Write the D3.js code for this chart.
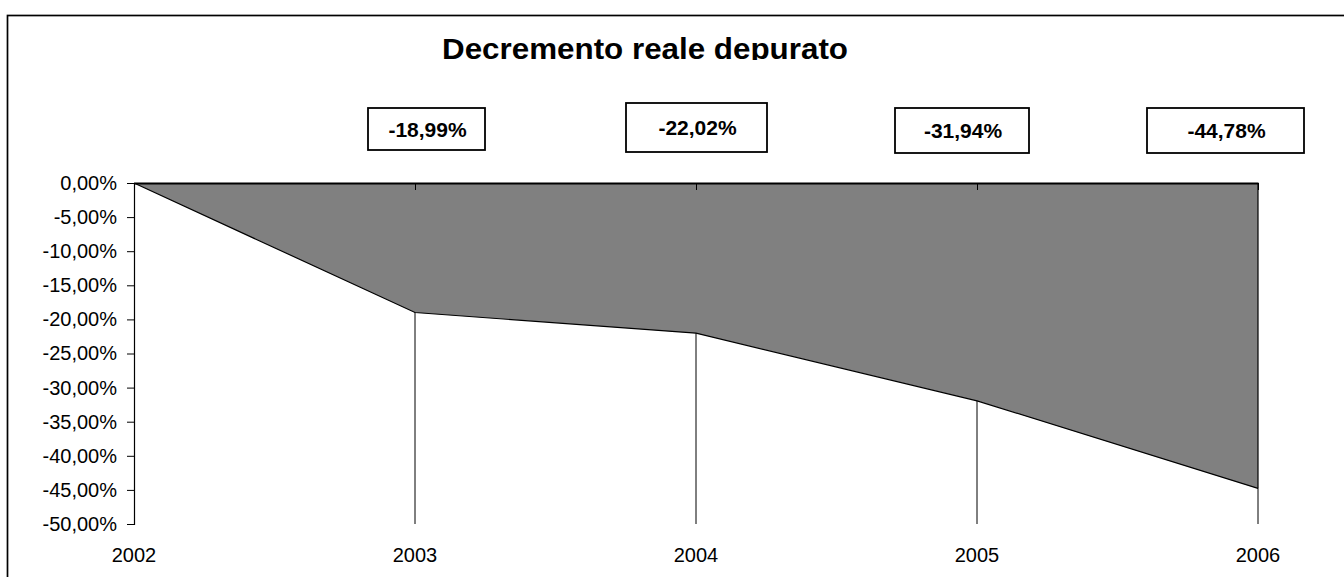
<!DOCTYPE html>
<html>
<head>
<meta charset="utf-8">
<script src="https://cdn.jsdelivr.net/npm/d3@7"></script>
<style>
  body { margin: 0; background: #fff; }
  svg { display: block; font-family: "Liberation Sans", Arial, sans-serif; }
</style>
</head>
<body>
<div id="chart"></div>
<script>
// data
const years = ["2002", "2003", "2004", "2005", "2006"];
const values = [0, -18.99, -22.02, -31.94, -44.78];
const yTicks = [0, -5, -10, -15, -20, -25, -30, -35, -40, -45, -50];
const labelText = ["-18,99%", "-22,02%", "-31,94%", "-44,78%"];

// hand placed label boxes (relative to each point's x), like the original sheet
const boxes = [
  {dx: -47, y: 108, w: 117, h: 42},
  {dx: -70, y: 103, w: 141, h: 49},
  {dx: -82, y: 108, w: 134, h: 45},
  {dx: -111, y: 108, w: 157, h: 45}
];

const width = 1344, height = 577;
const margin = {top: 183, left: 134, right: 86, bottom: 53};

const svg = d3.select("#chart").append("svg")
  .attr("width", width)
  .attr("height", height);

// outer chart border (runs off the right and bottom edge)
svg.append("rect")
  .attr("x", 7.5).attr("y", 15.5)
  .attr("width", width).attr("height", height)
  .attr("fill", "none")
  .attr("stroke", "#000")
  .attr("stroke-width", 1.7);

const x = d3.scalePoint()
  .domain(years)
  .range([margin.left, width - margin.right]);

const y = d3.scaleLinear()
  .domain([0, -50])
  .range([margin.top, height - margin.bottom]);

// italian style: comma decimals, plain hyphen for minus
const fmt = v => d3.format(".2f")(v).replace("−", "-").replace(".", ",") + "%";

// title, clipped at the bottom like the reference
svg.append("clipPath").attr("id", "titleClip")
  .append("rect").attr("x", 0).attr("y", 16).attr("width", width).attr("height", 44);

svg.append("text")
  .attr("clip-path", "url(#titleClip)")
  .attr("x", 442).attr("y", 59)
  .attr("textLength", 406)
  .attr("lengthAdjust", "spacingAndGlyphs")
  .style("font-size", "29px")
  .style("font-weight", "bold")
  .text("Decremento reale depurato");

const pts = years.map((d, i) => ({year: d, v: values[i]}));

// area between 0 and the series
const area = d3.area()
  .x(d => x(d.year))
  .y0(y(0))
  .y1(d => y(d.v));

svg.append("path")
  .datum(pts)
  .attr("d", area)
  .attr("fill", "#808080")
  .attr("stroke", "none");

svg.append("path")
  .datum(pts)
  .attr("d", d3.line().x(d => x(d.year)).y(d => y(d.v)))
  .attr("fill", "none")
  .attr("stroke", "#000")
  .attr("stroke-width", 1.2);

// drop lines
svg.selectAll(".drop")
  .data(pts.slice(1))
  .enter().append("line")
  .attr("class", "drop")
  .attr("x1", d => x(d.year)).attr("x2", d => x(d.year))
  .attr("y1", d => y(d.v)).attr("y2", y(-50))
  .attr("stroke", "#000")
  .attr("stroke-width", 1);

// right edge of the area
svg.append("line")
  .attr("x1", x("2006")).attr("x2", x("2006"))
  .attr("y1", y(0)).attr("y2", y(values[4]))
  .attr("stroke", "#000").attr("stroke-width", 1.2);

// y axis
const yAxis = d3.axisLeft(y)
  .tickValues(yTicks)
  .tickSize(7)
  .tickPadding(10)
  .tickFormat(fmt);

const gy = svg.append("g")
  .attr("transform", "translate(" + margin.left + ",0)")
  .call(yAxis);
gy.select(".domain").attr("stroke-width", 1.2);
gy.selectAll("text").style("font-size", "20px").attr("fill", "#000");

// x axis line sits at 0 with ticks pointing down into the area
const xAxis = d3.axisBottom(x).tickSize(7).tickSizeOuter(0).tickFormat("");
const gx = svg.append("g")
  .attr("transform", "translate(0," + y(0) + ")")
  .call(xAxis);
gx.select(".domain").attr("stroke-width", 1.8);

// category labels sit at the bottom
svg.selectAll(".xlab")
  .data(years)
  .enter().append("text")
  .attr("class", "xlab")
  .attr("x", d => x(d))
  .attr("y", 562)
  .attr("text-anchor", "middle")
  .style("font-size", "20px")
  .text(d => d);

// value label boxes
const lab = svg.selectAll(".lab")
  .data(pts.slice(1))
  .enter().append("g")
  .attr("class", "lab");

lab.append("rect")
  .attr("x", (d, i) => x(d.year) + boxes[i].dx)
  .attr("y", (d, i) => boxes[i].y)
  .attr("width", (d, i) => boxes[i].w)
  .attr("height", (d, i) => boxes[i].h)
  .attr("fill", "#fff")
  .attr("stroke", "#000")
  .attr("stroke-width", 1.8);

lab.append("text")
  .attr("x", (d, i) => x(d.year) + boxes[i].dx + boxes[i].w / 2 + 1)
  .attr("y", (d, i) => boxes[i].y + boxes[i].h / 2 + 7.5)
  .attr("text-anchor", "middle")
  .style("font-size", "21px")
  .style("font-weight", "bold")
  .text((d, i) => labelText[i]);
</script>
</body>
</html>
